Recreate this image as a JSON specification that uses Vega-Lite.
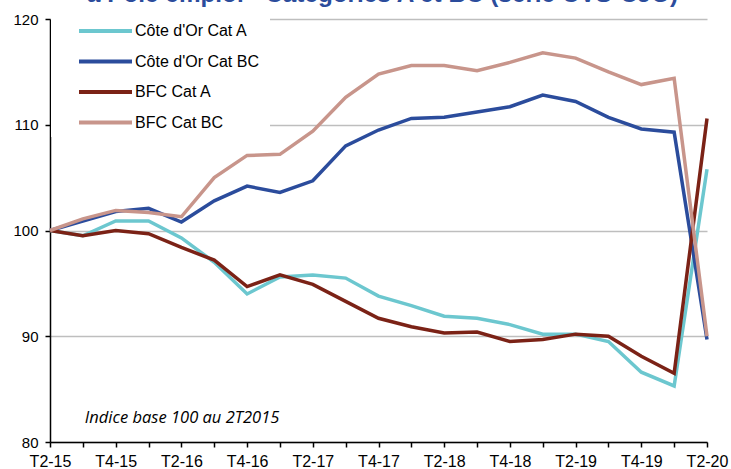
{
  "$schema": "https://vega.github.io/schema/vega-lite/v6.json",
  "autosize": {"type": "none"},
  "padding": {"left": 50, "top": 19, "right": 24, "bottom": 27},
  "width": 657,
  "height": 423,
  "background": "white",
  "title": {
    "text": "à Pôle emploi - Catégories A et BC (série CVS-CJO)",
    "font": "Liberation Sans",
    "fontSize": 24.3,
    "fontWeight": "bold",
    "color": "#2B4C9C",
    "anchor": "middle",
    "frame": "group",
    "baseline": "alphabetic",
    "offset": -14,
    "dx": 4
  },
  "config": {
    "view": {"stroke": null},
    "axis": {"labelFont": "Liberation Sans", "labelFontSize": 15, "labelColor": "#000000", "domainColor": "#000000", "tickColor": "#000000", "domainWidth": 1.5, "tickWidth": 1.5, "tickSize": 5}
  },
  "data": {
    "values": [
      {"q": "T2-15", "s": "Côte d'Or  Cat A", "v": 100},
      {"q": "T3-15", "s": "Côte d'Or  Cat A", "v": 99.5},
      {"q": "T4-15", "s": "Côte d'Or  Cat A", "v": 100.9},
      {"q": "T1-16", "s": "Côte d'Or  Cat A", "v": 100.9},
      {"q": "T2-16", "s": "Côte d'Or  Cat A", "v": 99.3},
      {"q": "T3-16", "s": "Côte d'Or  Cat A", "v": 97.0},
      {"q": "T4-16", "s": "Côte d'Or  Cat A", "v": 94.0},
      {"q": "T1-17", "s": "Côte d'Or  Cat A", "v": 95.6},
      {"q": "T2-17", "s": "Côte d'Or  Cat A", "v": 95.8},
      {"q": "T3-17", "s": "Côte d'Or  Cat A", "v": 95.5},
      {"q": "T4-17", "s": "Côte d'Or  Cat A", "v": 93.8},
      {"q": "T1-18", "s": "Côte d'Or  Cat A", "v": 92.9},
      {"q": "T2-18", "s": "Côte d'Or  Cat A", "v": 91.9},
      {"q": "T3-18", "s": "Côte d'Or  Cat A", "v": 91.7},
      {"q": "T4-18", "s": "Côte d'Or  Cat A", "v": 91.1},
      {"q": "T1-19", "s": "Côte d'Or  Cat A", "v": 90.2},
      {"q": "T2-19", "s": "Côte d'Or  Cat A", "v": 90.2},
      {"q": "T3-19", "s": "Côte d'Or  Cat A", "v": 89.5},
      {"q": "T4-19", "s": "Côte d'Or  Cat A", "v": 86.6},
      {"q": "T1-20", "s": "Côte d'Or  Cat A", "v": 85.3},
      {"q": "T2-20", "s": "Côte d'Or  Cat A", "v": 105.8},
      {"q": "T2-15", "s": "Côte d'Or  Cat BC", "v": 100},
      {"q": "T3-15", "s": "Côte d'Or  Cat BC", "v": 100.9},
      {"q": "T4-15", "s": "Côte d'Or  Cat BC", "v": 101.8},
      {"q": "T1-16", "s": "Côte d'Or  Cat BC", "v": 102.1},
      {"q": "T2-16", "s": "Côte d'Or  Cat BC", "v": 100.8},
      {"q": "T3-16", "s": "Côte d'Or  Cat BC", "v": 102.8},
      {"q": "T4-16", "s": "Côte d'Or  Cat BC", "v": 104.2},
      {"q": "T1-17", "s": "Côte d'Or  Cat BC", "v": 103.6},
      {"q": "T2-17", "s": "Côte d'Or  Cat BC", "v": 104.7},
      {"q": "T3-17", "s": "Côte d'Or  Cat BC", "v": 108.0},
      {"q": "T4-17", "s": "Côte d'Or  Cat BC", "v": 109.5},
      {"q": "T1-18", "s": "Côte d'Or  Cat BC", "v": 110.6},
      {"q": "T2-18", "s": "Côte d'Or  Cat BC", "v": 110.7},
      {"q": "T3-18", "s": "Côte d'Or  Cat BC", "v": 111.2},
      {"q": "T4-18", "s": "Côte d'Or  Cat BC", "v": 111.7},
      {"q": "T1-19", "s": "Côte d'Or  Cat BC", "v": 112.8},
      {"q": "T2-19", "s": "Côte d'Or  Cat BC", "v": 112.2},
      {"q": "T3-19", "s": "Côte d'Or  Cat BC", "v": 110.7},
      {"q": "T4-19", "s": "Côte d'Or  Cat BC", "v": 109.6},
      {"q": "T1-20", "s": "Côte d'Or  Cat BC", "v": 109.3},
      {"q": "T2-20", "s": "Côte d'Or  Cat BC", "v": 89.7},
      {"q": "T2-15", "s": "BFC Cat A", "v": 100},
      {"q": "T3-15", "s": "BFC Cat A", "v": 99.5},
      {"q": "T4-15", "s": "BFC Cat A", "v": 100.0},
      {"q": "T1-16", "s": "BFC Cat A", "v": 99.7},
      {"q": "T2-16", "s": "BFC Cat A", "v": 98.4},
      {"q": "T3-16", "s": "BFC Cat A", "v": 97.2},
      {"q": "T4-16", "s": "BFC Cat A", "v": 94.7},
      {"q": "T1-17", "s": "BFC Cat A", "v": 95.8},
      {"q": "T2-17", "s": "BFC Cat A", "v": 94.9},
      {"q": "T3-17", "s": "BFC Cat A", "v": 93.3},
      {"q": "T4-17", "s": "BFC Cat A", "v": 91.7},
      {"q": "T1-18", "s": "BFC Cat A", "v": 90.9},
      {"q": "T2-18", "s": "BFC Cat A", "v": 90.3},
      {"q": "T3-18", "s": "BFC Cat A", "v": 90.4},
      {"q": "T4-18", "s": "BFC Cat A", "v": 89.5},
      {"q": "T1-19", "s": "BFC Cat A", "v": 89.7},
      {"q": "T2-19", "s": "BFC Cat A", "v": 90.2},
      {"q": "T3-19", "s": "BFC Cat A", "v": 90.0},
      {"q": "T4-19", "s": "BFC Cat A", "v": 88.1},
      {"q": "T1-20", "s": "BFC Cat A", "v": 86.5},
      {"q": "T2-20", "s": "BFC Cat A", "v": 110.6},
      {"q": "T2-15", "s": "BFC Cat BC", "v": 100},
      {"q": "T3-15", "s": "BFC Cat BC", "v": 101.1},
      {"q": "T4-15", "s": "BFC Cat BC", "v": 101.9},
      {"q": "T1-16", "s": "BFC Cat BC", "v": 101.7},
      {"q": "T2-16", "s": "BFC Cat BC", "v": 101.3},
      {"q": "T3-16", "s": "BFC Cat BC", "v": 105.0},
      {"q": "T4-16", "s": "BFC Cat BC", "v": 107.1},
      {"q": "T1-17", "s": "BFC Cat BC", "v": 107.2},
      {"q": "T2-17", "s": "BFC Cat BC", "v": 109.4},
      {"q": "T3-17", "s": "BFC Cat BC", "v": 112.6},
      {"q": "T4-17", "s": "BFC Cat BC", "v": 114.8},
      {"q": "T1-18", "s": "BFC Cat BC", "v": 115.6},
      {"q": "T2-18", "s": "BFC Cat BC", "v": 115.6},
      {"q": "T3-18", "s": "BFC Cat BC", "v": 115.1},
      {"q": "T4-18", "s": "BFC Cat BC", "v": 115.9},
      {"q": "T1-19", "s": "BFC Cat BC", "v": 116.8},
      {"q": "T2-19", "s": "BFC Cat BC", "v": 116.3},
      {"q": "T3-19", "s": "BFC Cat BC", "v": 115.0},
      {"q": "T4-19", "s": "BFC Cat BC", "v": 113.8},
      {"q": "T1-20", "s": "BFC Cat BC", "v": 114.4},
      {"q": "T2-20", "s": "BFC Cat BC", "v": 90.0}
    ]
  },
  "layer": [
    {
      "mark": {"type": "line", "strokeWidth": 3.5, "strokeJoin": "miter", "strokeCap": "butt"},
      "encoding": {
        "x": {
          "field": "q", "type": "ordinal",
          "scale": {"type": "point", "padding": 0,
            "domain": ["T2-15","T3-15","T4-15","T1-16","T2-16","T3-16","T4-16","T1-17","T2-17","T3-17","T4-17","T1-18","T2-18","T3-18","T4-18","T1-19","T2-19","T3-19","T4-19","T1-20","T2-20"]},
          "axis": {
            "title": null, "labelAngle": 0, "labelPadding": 6, "labelFontSize": 16, "grid": false,
            "labelExpr": "test(/^T[24]/, datum.value) ? datum.label : ''"
          }
        },
        "y": {
          "field": "v", "type": "quantitative",
          "scale": {"domain": [80, 120], "nice": false, "zero": false},
          "axis": {"title": null, "values": [80, 90, 100, 110, 120], "grid": true, "gridColor": "#BEBEBE", "gridWidth": 1.5, "labelPadding": 7}
        },
        "color": {
          "field": "s", "type": "nominal", "sort": null,
          "scale": {
            "domain": ["Côte d'Or  Cat A", "Côte d'Or  Cat BC", "BFC Cat A", "BFC Cat BC"],
            "range": ["#6CC7CF", "#2B4C9C", "#7B2216", "#C8958B"]
          },
          "legend": {
            "title": null, "orient": "none", "legendX": 1, "legendY": -2,
            "fillColor": "white", "padding": 6,
            "symbolType": "stroke", "symbolSize": 2809, "symbolStrokeWidth": 4,
            "symbolOffset": 20, "labelOffset": 1, "clipHeight": 16,
            "labelFont": "Liberation Sans", "labelFontSize": 16, "labelColor": "#000000",
            "rowPadding": 14.5
          }
        }
      }
    },
    {
      "data": {"values": [{"q": "T3-15", "v": 82.3, "t": "Indice base 100 au 2T2015"}]},
      "mark": {"type": "text", "align": "left", "baseline": "middle", "dx": 2, "font": "Open Sans", "fontStyle": "italic", "fontSize": 16.5, "color": "#000000"},
      "encoding": {
        "x": {"field": "q", "type": "ordinal"},
        "y": {"field": "v", "type": "quantitative"},
        "text": {"field": "t"}
      }
    }
  ]
}
